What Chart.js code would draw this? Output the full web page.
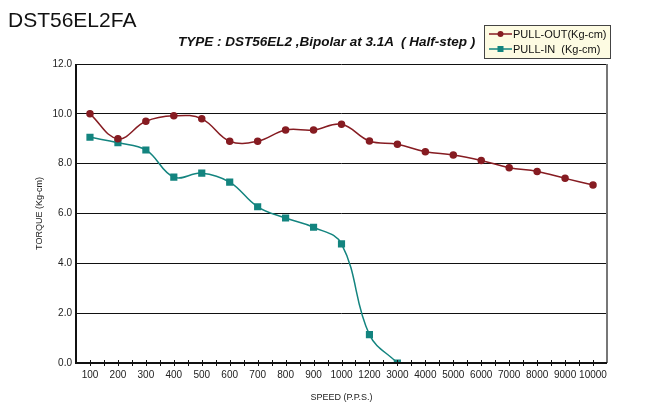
<!DOCTYPE html>
<html>
<head>
<meta charset="utf-8">
<script src="https://cdn.jsdelivr.net/npm/chart.js@4/dist/chart.umd.min.js"></script>
<style>
  body { margin: 0; background: #fff; font-family: "Liberation Sans", Arial, sans-serif; }
  #wrap { position: relative; width: 657px; height: 409px; }
  #main { position: absolute; left: 8px; top: 8px; font-size: 21px; color: #111; }
  #sub { position: absolute; left: 178px; top: 34px; font-size: 13.5px; font-weight: bold; font-style: italic; white-space: pre; color: #111; }
  #legend { position: absolute; left: 484px; top: 25px; width: 125px; height: 32px; background: #fdfbe2; border: 1px solid #444; font-size: 11px; color: #111; }
  .row { position: absolute; left: 4px; height: 13px; line-height: 13px; white-space: pre; }
  .row canvas { vertical-align: middle; margin-right: 1px; position: relative; top: -1px; }
</style>
</head>
<body>
<div id="wrap">
  <canvas id="c" width="657" height="409"></canvas>
  <div id="main">DST56EL2FA</div>
  <div id="sub">TYPE : DST56EL2 ,Bipolar at 3.1A  ( Half-step )</div>
  <div id="legend">
    <div class="row" style="top:2px"><canvas id="l1" width="23" height="10"></canvas>PULL-OUT(Kg-cm)</div>
    <div class="row" style="top:17px"><canvas id="l2" width="23" height="10"></canvas>PULL-IN  (Kg-cm)</div>
  </div>
</div>
<script>
const speeds = ['100', '200', '300', '400', '500', '600', '700', '800', '900', '1000',
                '1200', '3000', '4000', '5000', '6000', '7000', '8000', '9000', '10000'];
const pullOut = [10.0, 9.0, 9.7, 9.92, 9.8, 8.9, 8.9, 9.35, 9.35, 9.58,
                 8.91, 8.78, 8.48, 8.35, 8.13, 7.84, 7.69, 7.41, 7.14];
const pullIn = [9.06, 8.84, 8.55, 7.46, 7.62, 7.26, 6.27, 5.82, 5.45, 4.78,
                1.14, 0, null, null, null, null, null, null, null];
const yTicks = [0, 2, 4, 6, 8, 10, 12];

const outColor = '#861c22';
const inColor = '#13847f';

// legend samples
function sample(id, color, square) {
  const g = document.getElementById(id).getContext('2d');
  g.strokeStyle = color; g.fillStyle = color; g.lineWidth = 1.5;
  g.beginPath(); g.moveTo(0, 5); g.lineTo(23, 5); g.stroke();
  if (square) g.fillRect(8.5, 2, 6, 6);
  else { g.beginPath(); g.arc(11.5, 5, 3, 0, Math.PI * 2); g.fill(); }
}
sample('l1', outColor, false);
sample('l2', inColor, true);

// frame, right border and little ticks along the x axis
const frame = {
  id: 'frame',
  afterDraw(chart) {
    const { ctx, chartArea: a, scales: { x } } = chart;
    ctx.save();
    ctx.strokeStyle = '#777';
    ctx.lineWidth = 2;
    ctx.beginPath(); ctx.moveTo(a.right, a.top); ctx.lineTo(a.right, a.bottom); ctx.stroke();
    ctx.strokeStyle = '#111';
    ctx.lineWidth = 1;
    for (let i = 0; i < speeds.length; i++) {
      const p = x.getPixelForValue(i);
      const q = x.getPixelForValue(i + 0.5);
      ctx.beginPath();
      ctx.moveTo(Math.round(p) + 0.5, a.bottom - 3); ctx.lineTo(Math.round(p) + 0.5, a.bottom + 3);
      if (i < speeds.length - 1) { ctx.moveTo(Math.round(q) + 0.5, a.bottom - 3); ctx.lineTo(Math.round(q) + 0.5, a.bottom + 3); }
      ctx.stroke();
    }
    ctx.strokeStyle = '#111';
    ctx.lineWidth = 2;
    ctx.beginPath();
    ctx.moveTo(a.left, a.top); ctx.lineTo(a.left, a.bottom); ctx.lineTo(a.right, a.bottom);
    ctx.stroke();
    ctx.restore();
  }
};

new Chart(document.getElementById('c'), {
  type: 'line',
  data: {
    labels: speeds,
    datasets: [
      {
        label: 'PULL-OUT(Kg-cm)',
        data: pullOut,
        borderColor: outColor,
        backgroundColor: outColor,
        borderWidth: 1.5,
        pointStyle: 'circle',
        pointRadius: 3,
        tension: 0.4
      },
      {
        label: 'PULL-IN  (Kg-cm)',
        data: pullIn,
        borderColor: inColor,
        backgroundColor: inColor,
        borderWidth: 1.5,
        pointStyle: 'rect',
        pointRadius: 4,
        tension: 0.4,
        spanGaps: false
      }
    ]
  },
  options: {
    responsive: false,
    animation: false,
    layout: { padding: { left: 0, top: 64, right: 50, bottom: 0 } },
    plugins: { legend: { display: false }, tooltip: { enabled: false } },
    scales: {
      x: {
        offset: true,
        grid: { display: false, drawTicks: false },
        border: { display: false },
        ticks: { color: '#222', font: { size: 10, family: 'Liberation Sans' }, padding: 6, maxRotation: 0, autoSkip: false },
        title: { display: true, text: 'SPEED (P.P.S.)', color: '#222', font: { size: 9, family: 'Liberation Sans' }, padding: { top: 0, bottom: 6.5 } },
        afterFit(s) { s.height = 46; }
      },
      y: {
        min: 0,
        max: 12,
        afterBuildTicks(s) { s.ticks = yTicks.map(v => ({ value: v })); },
        grid: { color: '#111', lineWidth: 1, drawTicks: false },
        border: { display: false },
        ticks: { color: '#222', font: { size: 10, family: 'Liberation Sans' }, padding: 4, callback: v => v.toFixed(1) },
        title: { display: true, text: 'TORQUE (Kg-cm)', color: '#222', font: { size: 9, family: 'Liberation Sans' }, padding: { top: 34.5, bottom: 0 } },
        afterFit(s) { s.width = 76; }
      }
    }
  },
  plugins: [frame]
});
</script>
</body>
</html>
